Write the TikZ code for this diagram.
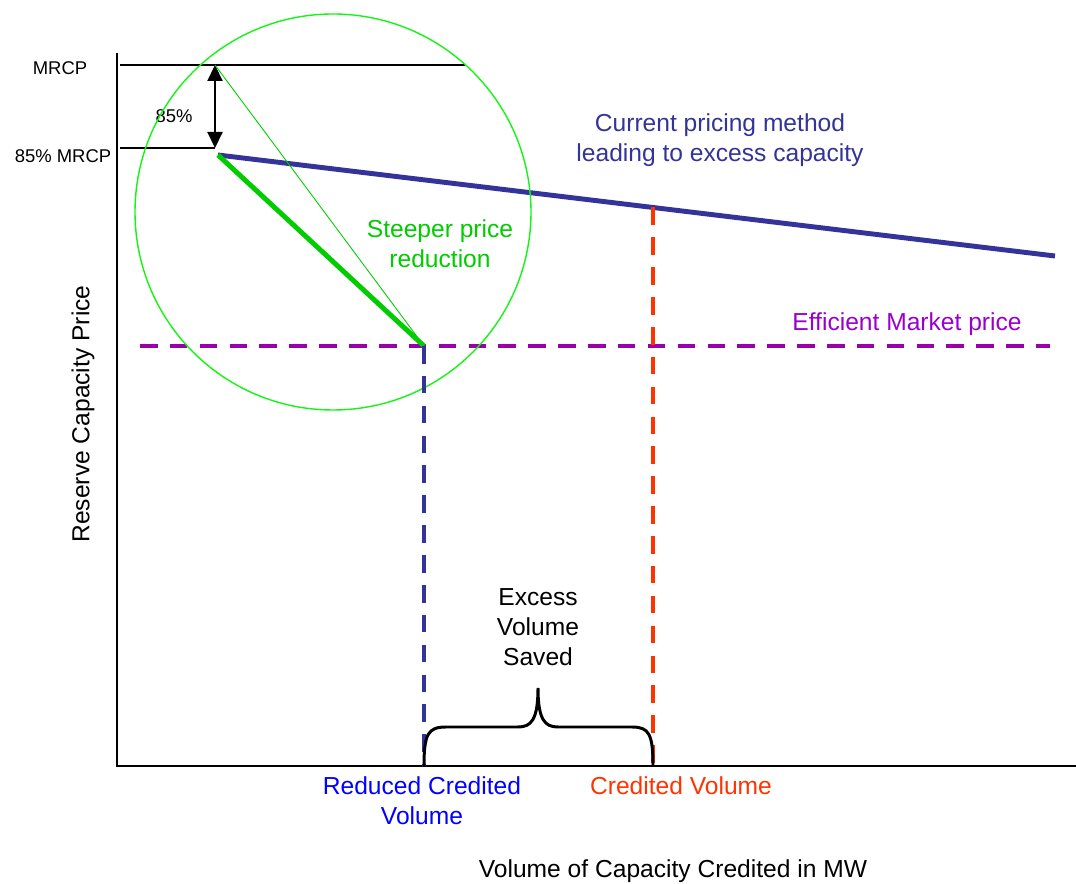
\documentclass[tikz,border=0pt]{standalone}
\usepackage{fontspec}
\setmainfont{Liberation Sans}
\definecolor{curblue}{RGB}{51, 51, 153}
\definecolor{steepgreen}{RGB}{0, 204, 0}
\definecolor{ringgreen}{RGB}{20, 245, 20}
\definecolor{effpurple}{RGB}{153, 0, 170}
\definecolor{efftext}{RGB}{153, 0, 204}
\definecolor{credred}{RGB}{255, 51, 0}
\definecolor{redblue}{RGB}{0, 0, 255}
\usepackage{tikz}
\usetikzlibrary{arrows.meta}

\begin{document}
\begin{tikzpicture}[x=0.02cm, y=-0.02cm,
    lbl/.style={font=\fontsize{14}{17}\selectfont, align=center, inner sep=0pt},
    small/.style={font=\fontsize{10.5}{12}\selectfont, inner sep=0pt},
    dashline/.style={line width=2.4pt, dash pattern=on 10pt off 7pt}]
  \useasboundingbox (0,0) rectangle (1076,884);

  % Key points
  \coordinate (origin) at (117,766);
  \coordinate (ytop) at (117,53);
  \coordinate (xend) at (1076,766);
  \coordinate (mrcpL) at (120,65);
  \coordinate (mrcp) at (215,65);
  \coordinate (mrcpR) at (465,65);
  \coordinate (lowL) at (120,148);
  \coordinate (low) at (215,148);
  \coordinate (start) at (218,155);
  \coordinate (curend) at (1055,256);
  \coordinate (eff) at (424,346);
  \coordinate (effL) at (140,346);
  \coordinate (effR) at (1050,346);
  \coordinate (credtop) at (653,207.5);
  \coordinate (credbot) at (653,766);
  \coordinate (redbot) at (424,766);
  \coordinate (tip) at (538,688);

  % Axes
  \draw[line width=1.1pt] (ytop) -- (origin) -- (xend);

  % MRCP levels
  \draw[line width=0.6pt] (mrcpL) -- (mrcpR);
  \draw[line width=0.6pt] (lowL) -- (low);
  \draw[{Triangle[width=0.3cm, length=0.32cm]}-{Triangle[width=0.3cm, length=0.32cm]}, line width=1.2pt] (mrcp) -- (low);
  \node[small] (mrcplbl) at (60,68) {MRCP};
  \node[small] (lowlbl) at (63,156) {85\% MRCP};
  \node[small] (pctlbl) at (174,116) {85\%};

  % Efficient market price
  \draw[dashline, effpurple] (effL) -- (effR);
  \node[lbl, text=efftext] (efflbl) at (907,324) {Efficient Market price};

  % Current pricing method
  \draw[line width=2.8pt, curblue] (start) -- (curend);
  \node[lbl, text=curblue] (curlbl) at (720,140) {Current pricing method\\leading to excess capacity};

  % Steeper reduction
  \draw[line width=0.5pt, steepgreen] (mrcp) -- (eff);
  \draw[line width=2.8pt, steepgreen] (start) -- (eff);
  \draw[line width=0.8pt, ringgreen] (333,212) circle (198);
  \node[lbl, text=steepgreen] (steeplbl) at (440,244) {Steeper price\\reduction};

  % Volumes
  \draw[dashline, curblue] (eff) -- (redbot);
  \draw[dashline, credred] (credtop) -- (credbot);
  \draw[line width=1.7pt] (redbot) .. controls (424,734) and (428,727) .. (446,727) -- (518,727)
    .. controls (531,727) and (538,720) .. (tip) .. controls (538,720) and (545,727) .. (558,727)
    -- (632,727) .. controls (649,727) and (653,734) .. (credbot);
  \node[lbl] (savedlbl) at (538,627) {Excess\\Volume\\Saved};
  \node[lbl, text=redblue] (redlbl) at (422,801) {Reduced Credited\\Volume};
  \node[lbl, text=credred] (credlbl) at (681,786) {Credited Volume};

  % Axis titles
  \node[lbl] (xlbl) at (673,871) {Volume of Capacity Credited in MW};
  \node[lbl, rotate=90] (ylbl) at (83,414) {Reserve Capacity Price};
\end{tikzpicture}
\end{document}
